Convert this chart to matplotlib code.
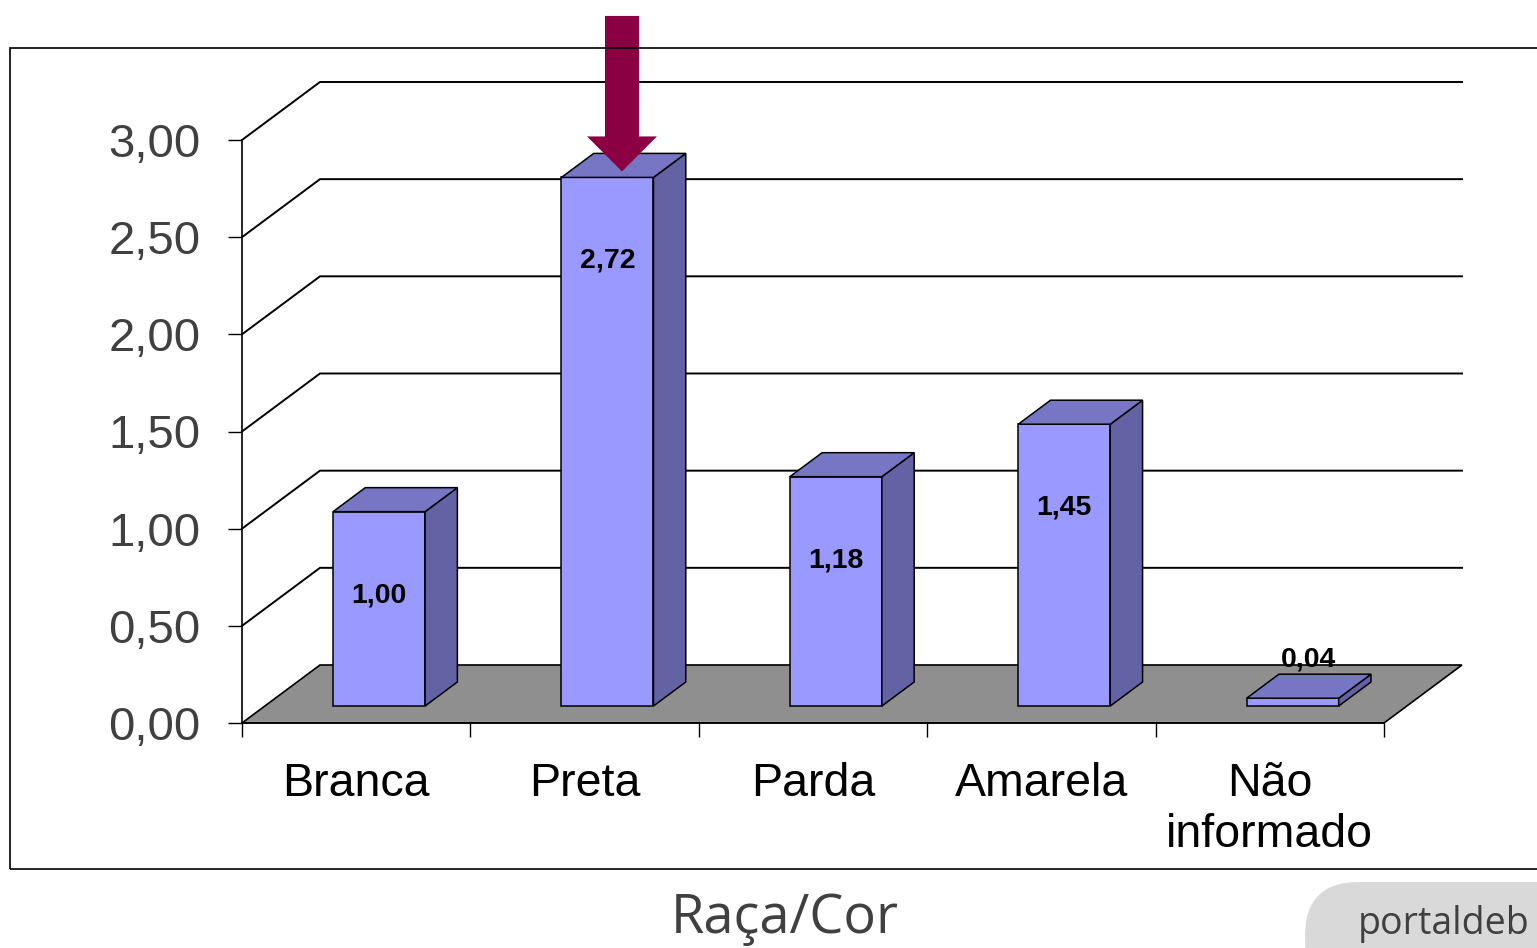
import numpy as np
import matplotlib
matplotlib.use("Agg")
import matplotlib.pyplot as plt
from matplotlib.patches import Polygon, Rectangle, FancyBboxPatch, FancyArrow

# ---- data ----
categories = ["Branca", "Preta", "Parda", "Amarela", "Não\ninformado"]
values = [1.00, 2.72, 1.18, 1.45, 0.04]
y_ticks = [0.0, 0.5, 1.0, 1.5, 2.0, 2.5, 3.0]
highlight = "Preta"
x_title = "Raça/Cor"
source_text = "portaldeb"

# ---- style ----
FRONT = "#9999FF"
SIDE = "#6262A5"
TOP = "#7676C4"
FLOOR = "#8F8F8F"
ARROW = "#8B0042"

# oblique projection of the depth axis (data units per full depth)
DX, DY = 0.3415, 0.2985
D0, D1 = 0.293, 0.707          # bar depth span
BAR_W = 0.403

def fmt(v):
    return f"{v:.2f}".replace(".", ",")

fig = plt.figure(figsize=(15.37, 9.48), dpi=100)
ax = fig.add_axes([242 / 1537, 1 - 723 / 948, 1142 / 1537, 583 / 948])
ax.set_xlim(-0.5, len(categories) - 0.5)
ax.set_ylim(0, 3.0)
ax.patch.set_visible(False)

x0, x1 = ax.get_xlim()

# floor
floor = Polygon([(x0, 0), (x1, 0), (x1 + DX, DY), (x0 + DX, DY)], closed=True,
                facecolor=FLOOR, edgecolor="black", lw=1.2, zorder=1, clip_on=False)
ax.add_patch(floor)

# gridlines on side and back walls
for t in y_ticks[1:]:
    ax.plot([x0, x0 + DX, x1 + DX], [t, t + DY, t + DY], color="black", lw=1.4,
            zorder=1.5, clip_on=False, solid_joinstyle="miter")

# bars (front face via bar, side and top faces projected)
xs = np.arange(len(categories)) + D0 * DX
base = D0 * DY
depth = D1 - D0
fronts = ax.bar(xs, values, width=BAR_W, bottom=base, color=FRONT, edgecolor="black",
                linewidth=1.1, zorder=3)
for xc, v in zip(xs, values):
    xl, xr = xc - BAR_W / 2, xc + BAR_W / 2
    top = base + v
    side = Polygon([(xr, base), (xr + depth * DX, base + depth * DY),
                    (xr + depth * DX, top + depth * DY), (xr, top)], closed=True,
                   facecolor=SIDE, edgecolor="black", lw=1.1, zorder=3, clip_on=False)
    lid = Polygon([(xl, top), (xr, top), (xr + depth * DX, top + depth * DY),
                   (xl + depth * DX, top + depth * DY)], closed=True,
                  facecolor=TOP, edgecolor="black", lw=1.1, zorder=3, clip_on=False)
    ax.add_patch(side)
    ax.add_patch(lid)
    if v > 0.5:
        lx, ly = xc, top - 0.43
    else:
        lx, ly = xc + 0.5 * depth * DX, top + 0.2
    ax.text(lx, ly, fmt(v), ha="center", va="center", fontsize=20.5,
            fontweight="bold", family="Liberation Sans", color="black", zorder=5)

# arrow pointing down at the highlighted bar
hi = categories.index(highlight)
tip_x = xs[hi] + 0.45 * depth * DX
tip_y = base + values[hi] + 0.25 * depth * DY
arrow_len = 0.80
ax.add_patch(FancyArrow(tip_x, tip_y + arrow_len, 0, -arrow_len, width=0.149,
                        head_width=0.306, head_length=0.18, length_includes_head=True,
                        color=ARROW, lw=0, zorder=6, clip_on=False))

# axes, ticks, labels
for s in ("top", "right"):
    ax.spines[s].set_visible(False)
ax.spines["left"].set_linewidth(1.2)
ax.spines["bottom"].set_linewidth(1.2)
ax.spines["left"].set_zorder(2)
ax.spines["bottom"].set_zorder(2)

ax.set_yticks(y_ticks)
ax.set_yticklabels([fmt(t) for t in y_ticks], family="Liberation Sans", fontsize=34,
                   color="#404040")
ax.tick_params(axis="y", direction="out", length=10, width=1.0, pad=20)

ax.set_xticks(np.arange(len(categories) + 1) - 0.5)
ax.set_xticklabels([])
ax.tick_params(axis="x", which="major", direction="out", length=10, width=1.0)
ax.set_xticks(np.arange(len(categories)), minor=True)
ax.set_xticklabels(categories, minor=True, family="Liberation Sans", fontsize=33.5,
                   color="black", linespacing=1.2)
ax.tick_params(axis="x", which="minor", length=0, pad=28)

# outer frame
fig.add_artist(Rectangle((10 / 1537, 1 - 869 / 948), 1.0, (869 - 48) / 948,
                         transform=fig.transFigure, fill=False, edgecolor="black",
                         lw=1.2, clip_on=True))

fig.text(785 / 1537, 1 - 919 / 948, x_title, ha="center", va="center",
         family="Open Sans", fontsize=39, color="#404040")

fig.add_artist(FancyBboxPatch((1305 / 1537, -0.05), 0.3, 1 - 882 / 948 + 0.05,
                              boxstyle="round,pad=0,rounding_size=0.035",
                              transform=fig.transFigure, facecolor="#D9D9D9",
                              edgecolor="none", mutation_aspect=1537 / 948))
fig.text(1358 / 1537, 1 - 934 / 948, source_text, ha="left", va="baseline",
         family="Open Sans", fontsize=27, color="#404040")

fig.savefig("out.png", dpi=100)
